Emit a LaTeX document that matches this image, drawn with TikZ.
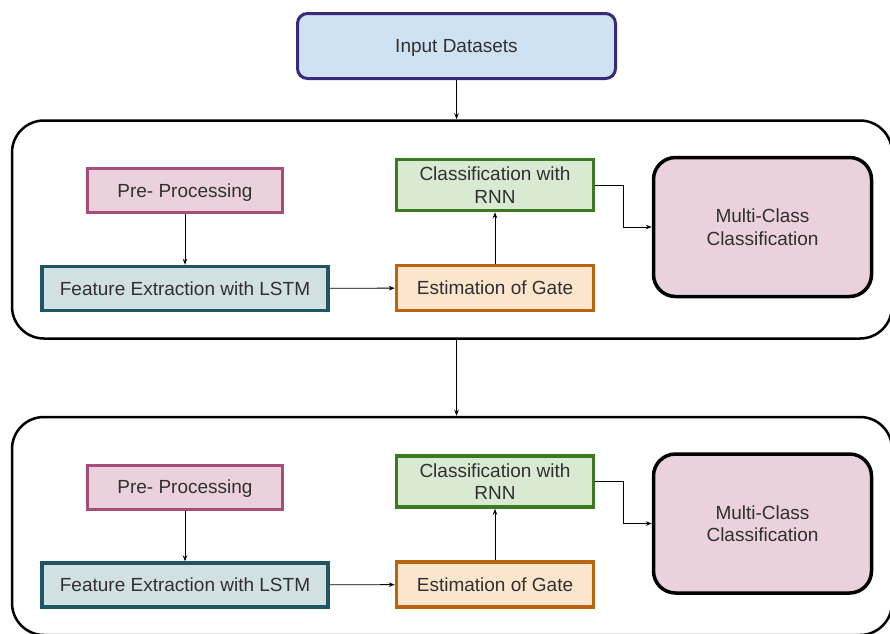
\documentclass[tikz,border=0pt]{standalone}
\usepackage{fontspec}
\setmainfont{Liberation Sans}
\usetikzlibrary{arrows.meta}
\definecolor{txt}{HTML}{303030}
\definecolor{inFill}{HTML}{CFE2F3}\definecolor{inDraw}{HTML}{3B2A78}
\definecolor{ppFill}{HTML}{EAD1DC}\definecolor{ppDraw}{HTML}{A64D79}
\definecolor{feFill}{HTML}{D0E0E3}\definecolor{feDraw}{HTML}{1F5662}
\definecolor{clFill}{HTML}{D9EAD3}\definecolor{clDraw}{HTML}{3C7A22}
\definecolor{esFill}{HTML}{FCE5CD}\definecolor{esDraw}{HTML}{BA6410}
\tikzset{
  base/.style={font=\fontsize{19}{22.5}\selectfont, text=txt, align=center, inner sep=0pt},
  inbox/.style={base, text depth=0pt, draw=inDraw, fill=inFill, line width=3pt, rounded corners=10pt, minimum width=318pt, minimum height=65pt},
  ppbox/.style={base, text depth=0pt, draw=ppDraw, fill=ppFill, line width=3pt, minimum width=195pt, minimum height=44pt},
  febox/.style={base, draw=feDraw, fill=feFill, line width=3.5pt, minimum width=286pt, minimum height=44pt},
  clbox/.style={base, draw=clDraw, fill=clFill, line width=3.5pt, minimum width=197pt, minimum height=51pt},
  esbox/.style={base, draw=esDraw, fill=esFill, line width=3.5pt, minimum width=197pt, minimum height=45pt},
  mcbox/.style={base, draw=black, fill=ppFill, line width=3.5pt, rounded corners=22pt, minimum width=218pt, minimum height=139pt},
  group/.style={draw=black, line width=2.5pt, rounded corners=32pt, minimum width=880pt, minimum height=218pt, inner sep=0pt},
  arr/.style={-{Stealth[length=6pt,width=4.5pt]}, line width=0.9pt, black}
}
\begin{document}
\begin{tikzpicture}[x=1pt,y=-1pt]
\clip (0,0) rectangle (890,633);
\fill[white] (0,0) rectangle (890,633);
\node[inbox] (in) at (456.5,46) {Input Datasets};
\foreach \i/\dy in {1/0,2/296.5}{
  \node[group] (g\i) at (452,{229.5+\dy}) {};
  \node[ppbox] (pp\i) at (185,{190.5+\dy}) {Pre- Processing};
  \node[febox] (fe\i) at (185,{288.5+\dy}) {Feature Extraction with LSTM};
  \node[clbox] (cl\i) at (495,{185+\dy}) {Classification with\\RNN};
  \node[esbox] (es\i) at (495,{288+\dy}) {Estimation of Gate};
  \node[mcbox] (mc\i) at (762.5,{227+\dy}) {Multi-Class\\Classification};
  \draw[arr] (pp\i) -- (fe\i);
  \draw[arr] (fe\i) -- (es\i);
  \draw[arr] (es\i) -- (cl\i);
  \draw[arr] (cl\i.east) -- ++(28,0) |- (mc\i.west);
}
\draw[arr] (in.south) -- (in.south |- g1.north);
\draw[arr] (in.south |- g1.south) -- (in.south |- g2.north);
\end{tikzpicture}
\end{document}
